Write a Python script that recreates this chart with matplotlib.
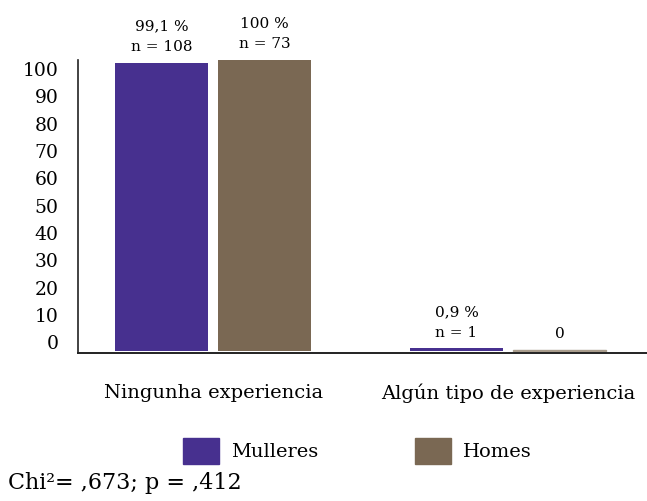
import matplotlib
matplotlib.use("Agg")
import matplotlib.pyplot as plt
import numpy as np
from matplotlib.patches import Patch

categories = ["Ningunha experiencia", "Algún tipo de experiencia"]
series = ["Mulleres", "Homes"]
mulleres = [99.1, 0.9]
homes = [100, 0]
mulleres_labels = ["99,1 %\nn = 108", "0,9 %\nn = 1"]
homes_labels = ["100 %\nn = 73", "0"]
yticks = list(range(0, 101, 10))

PURPLE = "#47308f"
BROWN = "#7a6853"

plt.rcParams["font.family"] = ["DejaVu Serif"]

fig = plt.figure(figsize=(6.47, 5.01), dpi=100)
ax = fig.add_axes([0.1206, 0.2954, 0.8794, 0.5846])

x = np.arange(len(categories))
width = 0.315
offset = 0.175

bars_m = ax.bar(x - offset, mulleres, width, color=PURPLE)
bars_h = ax.bar(x + offset, homes, width, color=BROWN)
# zero bar still shows as a thin line
for b, v in zip(bars_h, homes):
    if v == 0:
        b.set_height(0.35)
        b.set_color("#a89c8c")

for bars, labels in ((bars_m, mulleres_labels), (bars_h, homes_labels)):
    for b, lab in zip(bars, labels):
        ax.text(b.get_x() + b.get_width() / 2, b.get_height() + 3.0, lab,
                ha="center", va="bottom", fontsize=11, linespacing=1.6,
                clip_on=False)

ax.set_xlim(-0.458, 1.471)
ax.set_ylim(-0.7, 100)

# tick labels sit a little inside the bar range in the original
ax.set_yticks([3 + v * 0.94 for v in yticks])
ax.set_yticklabels([str(v) for v in yticks], fontsize=13.5)
ax.tick_params(axis="y", length=0, pad=14)
ax.set_xticks(x)
ax.set_xticklabels(categories, fontsize=14)
ax.tick_params(axis="x", length=0, pad=22)

for side in ("top", "right"):
    ax.spines[side].set_visible(False)
ax.spines["left"].set_linewidth(1.2)
ax.spines["bottom"].set_linewidth(1.4)
ax.spines["left"].set_color("#222222")
ax.spines["bottom"].set_color("#222222")

handles = [Patch(color=PURPLE), Patch(color=BROWN)]
fig.legend(handles, series, loc="center", bbox_to_anchor=(0.5526, 0.0998),
           ncol=2, frameon=False, fontsize=14, handlelength=1.85,
           handleheight=1.65, handletextpad=0.62, columnspacing=5.0)

fig.text(0.012, 0.035, "Chi²= ,673; p = ,412", fontsize=16, ha="left",
         va="center")

fig.savefig("out.png", dpi=100)
